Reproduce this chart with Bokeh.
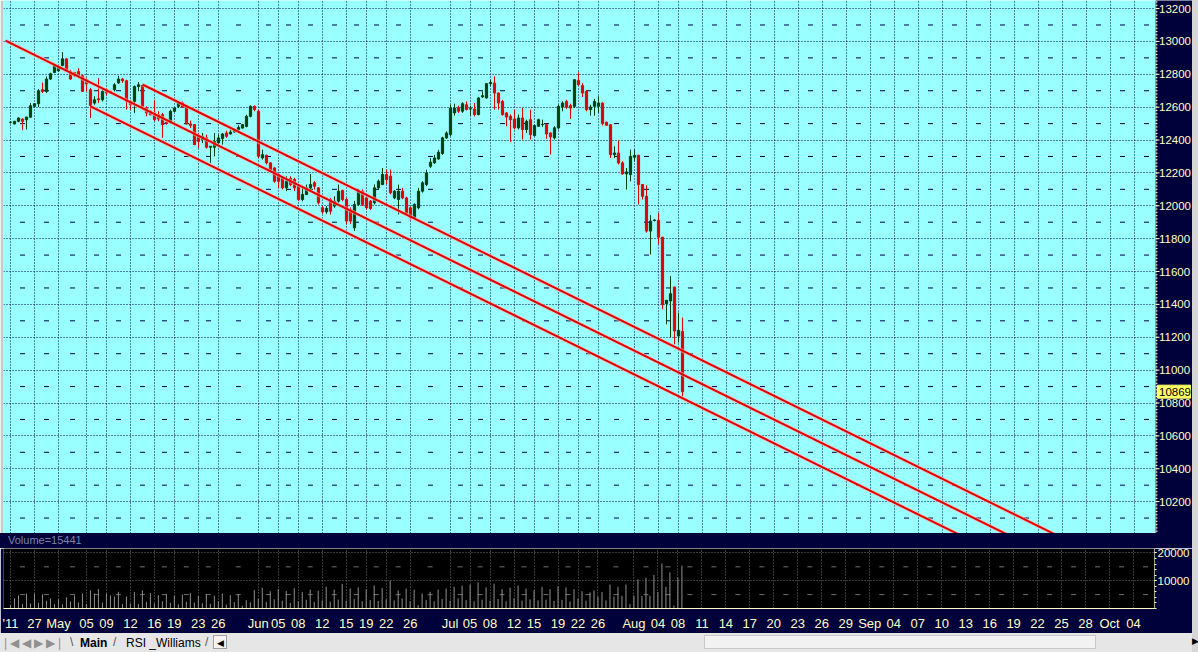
from bokeh.plotting import figure
from bokeh.layouts import column, row
from bokeh.models import (ColumnDataSource, SingleIntervalTicker, FixedTicker,
                          Div, Range1d)
from bokeh.core.properties import value
from bokeh.embed import file_html
from bokeh.resources import INLINE

# ---------------- data ----------------
opens = [12508, 12498, 12514, 12528, 12524, 12539, 12605, 12621, 12706, 12696,
         12771, 12811, 12821, 12854, 12894, 12817, 12811, 12817, 12791, 12767,
         12706, 12625, 12651, 12645, 12706, 12696, 12706, 12747, 12771, 12761,
         12635, 12635, 12726, 12732, 12595, 12575, 12565, 12554, 12554, 12508,
         12508, 12575, 12605, 12625, 12605, 12498, 12494, 12423, 12403, 12413,
         12356, 12356, 12382, 12409, 12443, 12437, 12449, 12463, 12473, 12483,
         12544, 12605, 12575, 12291, 12307, 12261, 12230, 12190, 12174, 12109,
         12166, 12160, 12119, 12038, 12069, 12109, 12140, 12109, 11988, 11963,
         12038, 11998, 12028, 12093, 12038, 11977, 11866, 12008, 12089, 12048,
         12028, 12018, 12109, 12129, 12190, 12180, 12048, 12038, 12089, 12048,
         11988, 11927, 11988, 12089, 12130, 12240, 12261, 12285, 12318, 12413,
         12433, 12565, 12595, 12575, 12615, 12589, 12589, 12555, 12662, 12656,
         12743, 12747, 12686, 12635, 12565, 12544, 12528, 12474, 12534, 12464,
         12524, 12427, 12484, 12494, 12494, 12443, 12413, 12474, 12601, 12635,
         12609, 12605, 12763, 12731, 12696, 12585, 12605, 12605, 12625, 12508,
         12493, 12311, 12321, 12261, 12194, 12190, 12295, 12307, 12129, 12058,
         11846, 11911, 11911, 11809, 11405, 11421, 11506, 11208, 11235]
highs = [12515, 12516, 12538, 12532, 12540, 12625, 12625, 12710, 12750, 12787,
         12810, 12864, 12852, 12935, 12898, 12827, 12815, 12837, 12797, 12777,
         12716, 12666, 12777, 12706, 12716, 12700, 12746, 12791, 12777, 12767,
         12645, 12732, 12753, 12736, 12605, 12580, 12645, 12575, 12565, 12514,
         12585, 12600, 12635, 12635, 12605, 12518, 12494, 12443, 12443, 12433,
         12362, 12443, 12433, 12443, 12457, 12463, 12470, 12490, 12498, 12554,
         12611, 12611, 12585, 12342, 12311, 12265, 12235, 12200, 12180, 12180,
         12180, 12170, 12129, 12109, 12129, 12194, 12150, 12113, 11998, 11998,
         12048, 12058, 12129, 12099, 12048, 11990, 12030, 12100, 12100, 12055,
         12035, 12130, 12160, 12230, 12220, 12220, 12095, 12129, 12109, 12055,
         11995, 12015, 12109, 12150, 12220, 12290, 12310, 12340, 12420, 12453,
         12615, 12621, 12609, 12630, 12635, 12609, 12625, 12660, 12696, 12747,
         12767, 12787, 12690, 12645, 12569, 12555, 12585, 12555, 12595, 12524,
         12585, 12494, 12530, 12524, 12500, 12447, 12484, 12615, 12635, 12645,
         12621, 12771, 12812, 12747, 12702, 12615, 12650, 12666, 12630, 12512,
         12493, 12362, 12396, 12271, 12230, 12342, 12342, 12311, 12129, 12125,
         11943, 11918, 11957, 11809, 11425, 11572, 11506, 11350, 11320]
lows = [12500, 12495, 12508, 12460, 12464, 12535, 12600, 12601, 12686, 12686,
        12765, 12807, 12815, 12848, 12825, 12767, 12785, 12777, 12696, 12696,
        12534, 12615, 12625, 12635, 12670, 12680, 12696, 12742, 12747, 12585,
        12585, 12565, 12696, 12585, 12544, 12550, 12514, 12514, 12413, 12494,
        12500, 12570, 12595, 12595, 12494, 12473, 12372, 12352, 12382, 12348,
        12261, 12301, 12372, 12372, 12413, 12433, 12445, 12457, 12469, 12477,
        12538, 12575, 12291, 12281, 12251, 12210, 12140, 12109, 12099, 12089,
        12119, 12089, 12028, 12028, 12065, 12089, 12099, 12008, 11951, 11951,
        11947, 11988, 12018, 12028, 11886, 11890, 11846, 11998, 11998, 11978,
        11975, 12008, 12100, 12125, 12130, 12069, 12040, 11947, 12040, 11947,
        11917, 11917, 11978, 12080, 12120, 12230, 12255, 12280, 12310, 12407,
        12423, 12548, 12565, 12565, 12581, 12548, 12544, 12550, 12656, 12652,
        12727, 12585, 12585, 12548, 12484, 12387, 12464, 12464, 12403, 12443,
        12403, 12423, 12480, 12480, 12407, 12312, 12403, 12464, 12575, 12589,
        12528, 12595, 12731, 12662, 12575, 12548, 12548, 12565, 12488, 12488,
        12291, 12291, 12251, 12190, 12099, 12149, 12271, 12008, 12038, 11836,
        11704, 11905, 11765, 11370, 11279, 11198, 11157, 11168, 10840]
closes = [12508, 12514, 12534, 12514, 12540, 12609, 12621, 12700, 12696, 12771,
          12803, 12854, 12848, 12894, 12827, 12771, 12791, 12787, 12696, 12742,
          12609, 12645, 12645, 12696, 12686, 12686, 12736, 12771, 12761, 12635,
          12615, 12726, 12736, 12605, 12565, 12554, 12524, 12528, 12494, 12500,
          12575, 12595, 12625, 12599, 12498, 12488, 12372, 12392, 12423, 12356,
          12362, 12392, 12413, 12437, 12423, 12449, 12463, 12477, 12494, 12544,
          12605, 12585, 12301, 12311, 12261, 12220, 12149, 12149, 12109, 12149,
          12129, 12109, 12038, 12069, 12109, 12129, 12119, 12018, 11963, 11984,
          11967, 12028, 12089, 12038, 11907, 11907, 12008, 12089, 12008, 11988,
          11983, 12109, 12149, 12190, 12160, 12079, 12089, 12089, 12048, 11957,
          11927, 12008, 12089, 12140, 12200, 12265, 12291, 12326, 12413, 12443,
          12595, 12595, 12575, 12621, 12585, 12590, 12555, 12656, 12670, 12743,
          12751, 12686, 12625, 12555, 12540, 12524, 12474, 12534, 12464, 12514,
          12433, 12488, 12524, 12495, 12437, 12419, 12474, 12605, 12625, 12601,
          12595, 12767, 12737, 12686, 12585, 12601, 12635, 12625, 12500, 12490,
          12311, 12321, 12261, 12194, 12206, 12301, 12307, 12129, 12058, 11846,
          11907, 11913, 11809, 11400, 11425, 11465, 11238, 11242, 10869]
volumes = [1200, 3600, 4700, 1600, 5400, 1800, 5400, 2000, 5100, 2800,
           3600, 1600, 3300, 1500, 4000, 2500, 4700, 2200, 5400, 1600,
           6500, 5400, 7000, 2100, 5400, 4700, 4300, 6000, 1600, 4300,
           1800, 6000, 1600, 6500, 2400, 5600, 1900, 4800, 2600, 5200,
           2000, 4700, 1500, 5000, 2400, 5600, 2100, 4500, 1900, 5200,
           1700, 4600, 2600, 5400, 1400, 4800, 2300, 5100, 1000, 3000,
           2200, 6600, 3500, 7500, 2400, 6200, 3300, 7000, 2800, 6300,
           2000, 7300, 2600, 6000, 3100, 6800, 2400, 6400, 2900, 7800,
           2500, 6800, 3200, 8800, 2800, 7200, 3400, 7600, 2600, 6900,
           3000, 8300, 2700, 7400, 3300, 10000, 2900, 6500, 3600, 7200,
           2600, 6800, 1200, 5400, 3000, 6000, 2600, 6800, 3400, 7200,
           2800, 7800, 3600, 8200, 3000, 8600, 2600, 9400, 3200, 7600,
           2800, 8900, 3400, 7000, 2600, 7500, 3600, 8300, 2800, 7200,
           3300, 6600, 2900, 7800, 3200, 7000, 2700, 8000, 3100, 7600,
           2500, 7000, 3500, 6200, 2800, 5800, 6500, 4300, 5900, 2900,
           8600, 4300, 7800, 4600, 8600, 1600, 4500, 10500, 4500, 11100,
           4600, 12100, 5900, 16200, 7800, 13000, 1100, 11100, 15441]

# date axis (bar index of each label, label text)
date_ticks = [0, 6, 12, 19, 24, 30, 36, 41, 47, 52, 62, 67, 72, 78, 84, 89, 94, 100,
              110, 115, 120, 126, 131, 137, 142, 147, 156, 162, 167, 173, 179, 185,
              191, 197, 203, 209, 215, 221, 227, 233, 239, 245, 251, 257, 263, 269,
              275, 281]
date_labels = ["'11", "27", "May", "05", "09", "12", "16", "19", "23", "26",
               "Jun", "05", "08", "12", "15", "19", "22", "26",
               "Jul", "05", "08", "12", "15", "19", "22", "26",
               "Aug", "04", "08", "11", "14", "17", "20", "23", "26", "29",
               "Sep", "04", "07", "10", "13", "16", "19", "22", "25", "28",
               "Oct", "04"]

# price scale labels
price_ticks = [10200, 10400, 10600, 10800, 11000, 11200, 11400, 11600, 11800,
               12000, 12200, 12400, 12600, 12800, 13000, 13200]

# regression channel lines: middle, upper, lower
chan_x0 = [-1.25, 33, 20]
chan_y0 = [13005, 12738, 12605]
chan_x1 = [290, 290, 290]
chan_y1 = [9510, 9654, 9365]

last_price = 10869
last_volume = 15441

# ---------------- styling ----------------
NAVY = "#00003A"
CREAM = "#FFFFC8"
CYAN = "#99FFFF"
GRIDC = "#00004A"
UP = "#00400F"
DOWN = "#E00000"
FONT = "Liberation Sans"
W_MAIN = 1155
W_SCALE = 37
W = W_MAIN + W_SCALE
H_PRICE = 533
X_START, X_END = -1.75, 286.25
Y_LO, Y_HI = 10006, 13249

n = len(opens)
idx = list(range(n))
colors = [UP if c >= o else DOWN for o, c in zip(opens, closes)]
src = ColumnDataSource(dict(x=idx, o=opens, h=highs, l=lows, c=closes,
                            top=[max(o, c) for o, c in zip(opens, closes)],
                            bot=[min(o, c) for o, c in zip(opens, closes)],
                            col=colors, v=volumes))

# ---------------- price panel ----------------
p = figure(width=W_MAIN, height=H_PRICE, x_range=Range1d(X_START, X_END),
           y_range=Range1d(Y_LO, Y_HI), output_backend="svg",
           toolbar_location=None, x_axis_location=None, y_axis_location=None,
           min_border_left=3, min_border_right=0, min_border_top=0,
           min_border_bottom=0)
p.background_fill_color = CYAN
p.border_fill_color = "#C8C8C8"
p.outline_line_color = None

p.ygrid.ticker = SingleIntervalTicker(interval=200)
p.ygrid.grid_line_color = GRIDC
p.ygrid.grid_line_dash = "1 2"
p.ygrid.grid_line_width = 1
p.xgrid.ticker = FixedTicker(ticks=date_ticks)
p.xgrid.grid_line_color = GRIDC
p.xgrid.grid_line_dash = "1 2"
p.xgrid.grid_line_width = 1

# small dash marks in the middle of each grid cell
mid_x = [(a + b) / 2 for a, b in zip(date_ticks[:-1], date_ticks[1:])]
mid_x.append(date_ticks[-1] + 3)
mid_y = [t - 100 for t in price_ticks] + [price_ticks[-1] + 100]
dx, dy = [], []
for yy in mid_y:
    for xx in mid_x:
        dx.append(xx)
        dy.append(yy)
p.scatter(dx, dy, marker="dash", size=5, line_color=GRIDC, line_width=1)

# candles
p.segment(x0="x", y0="l", x1="x", y1="h", color="col", line_width=1, source=src)
p.vbar(x="x", top="top", bottom="bot", width=0.55, fill_color="col",
       line_color="col", line_width=1, source=src)

# channel
for x0, y0, x1, y1 in zip(chan_x0, chan_y0, chan_x1, chan_y1):
    p.line([x0, x1], [y0, y1], line_color="#FFB0B0", line_width=4, line_alpha=0.6)
    p.line([x0, x1], [y0, y1], line_color="#E00000", line_width=2)

# ---------------- price scale (right) ----------------
s = figure(width=W_SCALE, height=H_PRICE, x_range=Range1d(0, W_SCALE),
           y_range=p.y_range, output_backend="svg", toolbar_location=None,
           x_axis_location=None, y_axis_location=None,
           min_border_left=0, min_border_right=0, min_border_top=0,
           min_border_bottom=0)
s.background_fill_color = NAVY
s.border_fill_color = NAVY
s.outline_line_color = None
s.xgrid.visible = False
s.ygrid.visible = False
# ruler
minor_vals = list(range(price_ticks[0] - 200, Y_HI, 20))
s.segment(x0=[0] * len(minor_vals), y0=minor_vals, x1=[2] * len(minor_vals),
          y1=minor_vals, line_color=CREAM, line_width=1)
s.segment(x0=[0] * len(price_ticks), y0=price_ticks, x1=[4] * len(price_ticks),
          y1=price_ticks, line_color=CREAM, line_width=1)
s.segment(x0=[0.5], y0=[Y_LO], x1=[0.5], y1=[Y_HI], line_color=CREAM,
          line_width=1, line_dash="1 1")
s.text(x=[3.5] * len(price_ticks), y=price_ticks, text=[str(t) for t in price_ticks],
       text_baseline="middle", text_align="left", text_color=CREAM,
       text_font=value(FONT), text_font_size="11.5px")
# last price highlight
s.rect(x=[18.5], y=[last_price], width=33, height=13, height_units="screen",
       fill_color="#FFFF66", line_color="#FFFF66")
s.text(x=[3.5], y=[last_price], text=[str(last_price)], text_baseline="middle",
       text_align="left", text_color="black", text_font=value(FONT),
       text_font_size="11.5px")

# ---------------- volume panel ----------------
vol_title = Div(text="Volume=%d" % last_volume, width=W, height=15, margin=(0, 0, 0, 0),
                styles={"background-color": NAVY, "color": "#7C84A8",
                        "font-family": FONT, "font-size": "11px",
                        "padding-left": "8px", "line-height": "15px",
                        "box-sizing": "border-box"})

v = figure(width=W, height=85, x_range=p.x_range, y_range=Range1d(0, 21600),
           output_backend="svg", toolbar_location=None, y_axis_location="right",
           min_border_left=3, min_border_right=W_SCALE, min_border_top=0,
           min_border_bottom=0)
v.background_fill_color = "black"
v.border_fill_color = NAVY
v.outline_line_color = None
v.yaxis.ticker = FixedTicker(ticks=[10000, 20000], minor_ticks=list(range(0, 21600, 2000)))
v.yaxis.axis_line_color = CREAM
v.yaxis.axis_line_dash = "1 1"
v.yaxis.major_tick_line_color = CREAM
v.yaxis.minor_tick_line_color = CREAM
v.yaxis.major_tick_in = 0
v.yaxis.major_tick_out = 2
v.yaxis.minor_tick_in = 0
v.yaxis.minor_tick_out = 2
v.yaxis.major_label_standoff = 1
v.yaxis.major_label_text_color = CREAM
v.yaxis.major_label_text_font = FONT
v.yaxis.major_label_text_font_size = "11.5px"
v.ygrid.grid_line_color = "#707070"
v.ygrid.grid_line_dash = "1 2"
v.xgrid.ticker = FixedTicker(ticks=date_ticks)
v.xgrid.grid_line_color = "#707070"
v.xgrid.grid_line_dash = "1 2"

v.xaxis.ticker = FixedTicker(ticks=date_ticks)
v.xaxis.major_label_overrides = {t: lab for t, lab in zip(date_ticks, date_labels)}
v.xaxis.axis_line_color = CREAM
v.xaxis.major_tick_line_color = None
v.xaxis.minor_tick_line_color = None
v.xaxis.major_label_standoff = 1
v.xaxis.major_label_text_color = CREAM
v.xaxis.major_label_text_font = FONT
v.xaxis.major_label_text_font_size = "13px"

vdx, vdy = [], []
for yy in (5000, 15000):
    for xx in mid_x:
        vdx.append(xx)
        vdy.append(yy)
v.scatter(vdx, vdy, marker="dash", size=5, line_color="#707070", line_width=1)
v.segment(x0="x", y0=0, x1="x", y1="v", line_color="#909090", line_width=1, source=src)

# ---------------- tab bar ----------------
tab_html = (
    "<div style='position:relative;width:%dpx;height:19px;font-family:%s;"
    "font-size:12px;color:#000;'>"
    "<span style='position:absolute;left:4px;top:2px;color:#909090;letter-spacing:3px;'>"
    "|&#9664;&#9664;&#9654;&#9654;|</span>"
    "<span style='position:absolute;left:70px;top:1px;color:#555'>\\</span>"
    "<span style='position:absolute;left:80px;top:2px;font-weight:bold;'>Main</span>"
    "<span style='position:absolute;left:113px;top:1px;color:#555'>/</span>"
    "<span style='position:absolute;left:126px;top:2px;'>RSI _Williams</span>"
    "<span style='position:absolute;left:205px;top:1px;color:#555'>/</span>"
    "<span style='position:absolute;left:213px;top:2px;width:14px;height:14px;"
    "border:1px solid #A0A0A0;background:#F4F4F4;font-size:9px;text-align:center;"
    "line-height:14px;'>&#9664;</span>"
    "<span style='position:absolute;left:704px;top:2px;width:392px;height:14px;"
    "border:1px solid #C8C8C8;background:#F2F2F2;'></span>"
    "</div>" % (W, FONT)
)
tabs = Div(text=tab_html, width=W, height=19, margin=(0, 0, 0, 0),
           styles={"background-color": "#E6E6E6"})

strip = Div(text="<div style='position:absolute;bottom:4px;left:0px;font-size:9px;'>&#9654;</div>",
            width=6, height=652, margin=(0, 0, 0, 0),
            styles={"background-color": "#D6D6D6", "position": "relative"})

layout = row(column(row(p, s, spacing=0), vol_title, v, tabs, spacing=0), strip, spacing=0)

open("out.html", "w").write(file_html(layout, INLINE))
